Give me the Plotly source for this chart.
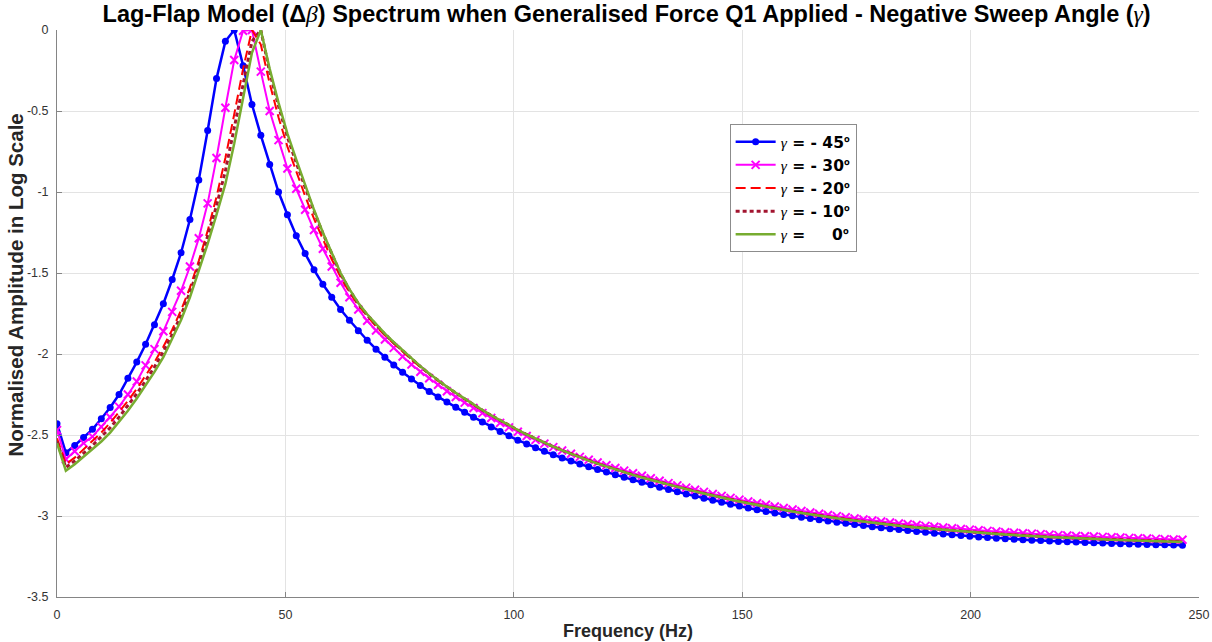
import plotly.graph_objects as go

# ---------------- data ----------------
FREQ_STEP_HZ = 1.94
N_POINTS = 128
freq_hz = [round(i * FREQ_STEP_HZ, 3) for i in range(N_POINTS)]

amp_m45 = [-2.43, -2.61, -2.565, -2.515, -2.465, -2.40, -2.33, -2.25, -2.15, -2.05,
           -1.94, -1.82, -1.69, -1.54, -1.375, -1.17, -0.926, -0.62, -0.30, -0.07,
           0.0, -0.22, -0.46, -0.65, -0.83, -1.0, -1.14, -1.27, -1.38, -1.48,
           -1.57, -1.65, -1.725, -1.792, -1.857, -1.915, -1.97, -2.02, -2.068, -2.112,
           -2.155, -2.195, -2.232, -2.265, -2.296, -2.328, -2.36, -2.39, -2.42, -2.45,
           -2.478, -2.505, -2.532, -2.556, -2.579, -2.601, -2.622, -2.642, -2.661, -2.679,
           -2.696, -2.713, -2.729, -2.745, -2.761, -2.777, -2.792, -2.807, -2.822, -2.836,
           -2.85, -2.864, -2.877, -2.89, -2.903, -2.915, -2.927, -2.939, -2.951, -2.962,
           -2.972, -2.981, -2.99, -2.999, -3.007, -3.015, -3.023, -3.031, -3.038, -3.045,
           -3.052, -3.059, -3.066, -3.072, -3.078, -3.084, -3.09, -3.096, -3.101, -3.106,
           -3.111, -3.116, -3.121, -3.125, -3.129, -3.133, -3.137, -3.14, -3.143, -3.146,
           -3.149, -3.152, -3.155, -3.157, -3.159, -3.161, -3.163, -3.165, -3.167, -3.169,
           -3.171, -3.173, -3.174, -3.176, -3.177, -3.178, -3.179, -3.18]

amp_m30 = [-2.47, -2.65, -2.60, -2.55, -2.51, -2.45, -2.39, -2.325, -2.25, -2.17,
           -2.07, -1.97, -1.86, -1.74, -1.61, -1.46, -1.285, -1.07, -0.79, -0.48,
           -0.185, -0.005, 0.0, -0.257, -0.50, -0.68, -0.855, -0.98, -1.11, -1.235,
           -1.35, -1.46, -1.56, -1.65, -1.725, -1.795, -1.855, -1.91, -1.962, -2.015,
           -2.065, -2.11, -2.15, -2.19, -2.23, -2.265, -2.30, -2.333, -2.365, -2.395,
           -2.425, -2.453, -2.48, -2.506, -2.53, -2.553, -2.575, -2.596, -2.616, -2.635,
           -2.653, -2.67, -2.687, -2.704, -2.72, -2.736, -2.752, -2.767, -2.782, -2.797,
           -2.811, -2.825, -2.838, -2.851, -2.864, -2.876, -2.888, -2.899, -2.91, -2.921,
           -2.931, -2.941, -2.951, -2.96, -2.969, -2.978, -2.986, -2.994, -3.001, -3.008,
           -3.015, -3.022, -3.028, -3.034, -3.04, -3.046, -3.051, -3.056, -3.061, -3.066,
           -3.071, -3.076, -3.08, -3.084, -3.088, -3.092, -3.096, -3.1, -3.103, -3.106,
           -3.109, -3.112, -3.115, -3.118, -3.12, -3.123, -3.125, -3.127, -3.129, -3.131,
           -3.133, -3.135, -3.137, -3.139, -3.141, -3.143, -3.145, -3.147]

amp_m20 = [-2.52, -2.68, -2.64, -2.59, -2.54, -2.485, -2.425, -2.36, -2.29, -2.215,
           -2.135, -2.05, -1.955, -1.85, -1.73, -1.59, -1.425, -1.24, -1.03, -0.79,
           -0.52, -0.24, 0.0, -0.09, -0.33, -0.54, -0.72, -0.875, -1.025, -1.165,
           -1.295, -1.415, -1.525, -1.62, -1.70, -1.768, -1.83, -1.885, -1.937, -1.987,
           -2.035, -2.081, -2.125, -2.166, -2.205, -2.243, -2.279, -2.314, -2.348, -2.38,
           -2.411, -2.441, -2.469, -2.496, -2.522, -2.547, -2.571, -2.594, -2.615, -2.636,
           -2.656, -2.675, -2.693, -2.711, -2.728, -2.744, -2.76, -2.775, -2.79, -2.805,
           -2.819, -2.833, -2.846, -2.859, -2.872, -2.884, -2.896, -2.908, -2.919, -2.93,
           -2.941, -2.951, -2.961, -2.97, -2.979, -2.988, -2.996, -3.004, -3.012, -3.019,
           -3.026, -3.033, -3.04, -3.046, -3.052, -3.058, -3.064, -3.069, -3.074, -3.079,
           -3.084, -3.089, -3.093, -3.097, -3.101, -3.105, -3.109, -3.113, -3.116, -3.119,
           -3.122, -3.125, -3.128, -3.131, -3.133, -3.136, -3.138, -3.14, -3.142, -3.144,
           -3.146, -3.148, -3.15, -3.152, -3.154, -3.156, -3.157, -3.158]

amp_m10 = [-2.54, -2.70, -2.66, -2.615, -2.565, -2.51, -2.455, -2.39, -2.32, -2.245,
           -2.165, -2.08, -1.985, -1.88, -1.76, -1.62, -1.46, -1.28, -1.085, -0.87,
           -0.61, -0.33, -0.07, 0.0, -0.26, -0.47, -0.66, -0.82, -0.975, -1.12,
           -1.255, -1.385, -1.505, -1.605, -1.69, -1.76, -1.822, -1.878, -1.93, -1.981,
           -2.03, -2.077, -2.122, -2.164, -2.203, -2.241, -2.278, -2.313, -2.347, -2.379,
           -2.41, -2.44, -2.469, -2.497, -2.523, -2.548, -2.572, -2.595, -2.616, -2.637,
           -2.657, -2.676, -2.694, -2.712, -2.729, -2.745, -2.761, -2.776, -2.791, -2.806,
           -2.82, -2.834, -2.847, -2.86, -2.873, -2.885, -2.897, -2.909, -2.92, -2.931,
           -2.942, -2.952, -2.962, -2.971, -2.98, -2.989, -2.997, -3.005, -3.013, -3.02,
           -3.027, -3.034, -3.041, -3.047, -3.053, -3.059, -3.065, -3.07, -3.075, -3.08,
           -3.085, -3.09, -3.094, -3.098, -3.102, -3.106, -3.11, -3.114, -3.117, -3.12,
           -3.123, -3.126, -3.129, -3.132, -3.134, -3.137, -3.139, -3.141, -3.143, -3.145,
           -3.147, -3.149, -3.151, -3.153, -3.155, -3.157, -3.158, -3.159]

amp_0 = [-2.55, -2.72, -2.68, -2.635, -2.59, -2.54, -2.485, -2.42, -2.35, -2.275,
         -2.195, -2.11, -2.02, -1.91, -1.79, -1.65, -1.49, -1.32, -1.14, -0.95,
         -0.70, -0.42, -0.14, 0.0, -0.24, -0.45, -0.64, -0.80, -0.96, -1.11,
         -1.25, -1.38, -1.50, -1.60, -1.685, -1.755, -1.818, -1.874, -1.927, -1.978,
         -2.028, -2.075, -2.12, -2.162, -2.202, -2.24, -2.277, -2.312, -2.346, -2.379,
         -2.41, -2.44, -2.469, -2.497, -2.523, -2.548, -2.572, -2.595, -2.617, -2.638,
         -2.658, -2.677, -2.695, -2.713, -2.73, -2.746, -2.762, -2.777, -2.792, -2.807,
         -2.821, -2.835, -2.848, -2.861, -2.874, -2.886, -2.898, -2.91, -2.921, -2.932,
         -2.943, -2.953, -2.963, -2.972, -2.981, -2.99, -2.998, -3.006, -3.014, -3.021,
         -3.028, -3.035, -3.042, -3.048, -3.054, -3.06, -3.066, -3.071, -3.076, -3.081,
         -3.086, -3.091, -3.095, -3.099, -3.103, -3.107, -3.111, -3.115, -3.118, -3.121,
         -3.124, -3.127, -3.13, -3.133, -3.135, -3.138, -3.14, -3.142, -3.144, -3.146,
         -3.148, -3.15, -3.152, -3.154, -3.156, -3.158, -3.159, -3.16]

GREEK = '<span style="font-family:Liberation Serif, DejaVu Serif, serif;font-weight:normal;font-style:italic">{}</span>'
GAMMA = GREEK.format("γ")
BETA = GREEK.format("β")
DEG = '<span style="font-family:Liberation Sans, Arial, sans-serif">º</span>'
NB = "\u00a0"
legend_labels = [GAMMA + " = - 45" + DEG, GAMMA + " = - 30" + DEG, GAMMA + " = - 20" + DEG,
                 GAMMA + " = - 10" + DEG, GAMMA + " = " + NB * 4 + "0" + DEG]
title_text = ("Lag-Flap Model (Δ" + BETA + ") Spectrum when Generalised Force Q1 Applied"
              " - Negative Sweep Angle (" + GAMMA + ")")

x_ticks = [0, 50, 100, 150, 200, 250]
y_ticks = [0, -0.5, -1, -1.5, -2, -2.5, -3, -3.5]
y_tick_text = ["0", "-0.5", "-1", "-1.5", "-2", "-2.5", "-3", "-3.5"]

FONT = "Liberation Sans, Arial, Helvetica, sans-serif"
LEGEND_FONT = "DejaVu Sans, Liberation Sans, sans-serif"

fig = go.Figure()
fig.add_trace(go.Scatter(x=freq_hz, y=amp_m45, name=legend_labels[0], mode="lines+markers",
                         line=dict(color="#0000FF", width=2.5),
                         marker=dict(symbol="circle", size=7, color="#0000FF")))
fig.add_trace(go.Scatter(x=freq_hz, y=amp_m30, name=legend_labels[1], mode="lines+markers",
                         line=dict(color="#FF00FF", width=2),
                         marker=dict(symbol="x-thin", size=8,
                                     line=dict(color="#FF00FF", width=2))))
fig.add_trace(go.Scatter(x=freq_hz, y=amp_m20, name=legend_labels[2], mode="lines",
                         line=dict(color="#FF0000", width=2, dash="10px,5px")))
fig.add_trace(go.Scatter(x=freq_hz, y=amp_m10, name=legend_labels[3], mode="lines",
                         line=dict(color="#A2142F", width=3, dash="4px,3px")))
fig.add_trace(go.Scatter(x=freq_hz, y=amp_0, name=legend_labels[4], mode="lines",
                         line=dict(color="#77AC30", width=2.5)))

axis_common = dict(showgrid=True, gridcolor="#e3e3e3", gridwidth=1, zeroline=False,
                   showline=True, linecolor="#858585", linewidth=1,
                   ticks="inside", ticklen=5, tickcolor="#858585",
                   tickfont=dict(family=FONT, size=12.5, color="#333333"), mirror=False,
                   automargin=False)

fig.update_layout(
    width=1212, height=642,
    margin=dict(l=57, r=13, t=30, b=45, autoexpand=False),
    paper_bgcolor="white", plot_bgcolor="white",
    font=dict(family=FONT, color="#262626"),
    title=dict(text=title_text,
               font=dict(family=FONT, size=23.5, color="#000000", weight="bold"),
               x=0.517, xanchor="center", y=0.978, yanchor="middle", xref="container", yref="container"),
    xaxis=dict(range=[0, 250], tickvals=x_ticks, ticktext=[str(v) for v in x_ticks],
               ticklabelstandoff=6, **axis_common),
    yaxis=dict(range=[-3.5, 0], tickvals=y_ticks, ticktext=y_tick_text,
               ticklabelstandoff=5, **axis_common),
    legend=dict(x=0.589, y=0.834, xanchor="left", yanchor="top",
                bgcolor="white", bordercolor="#8c8c8c", borderwidth=1,
                font=dict(family=LEGEND_FONT, size=15.5, color="#000000", weight="bold"),
                tracegroupgap=0, itemwidth=40),
    showlegend=True,
)

fig.add_annotation(text="<b>Frequency (Hz)</b>", xref="paper", yref="paper", x=0.5, y=-0.06,
                   xanchor="center", yanchor="middle", showarrow=False,
                   font=dict(family=FONT, size=18, color="#262626"))
fig.add_annotation(text="<b>Normalised Amplitude in Log Scale</b>", xref="paper", yref="paper",
                   x=-0.036, y=0.551, xanchor="center", yanchor="middle", textangle=-90,
                   showarrow=False, font=dict(family=FONT, size=20.5, color="#262626"))

fig.write_html("out.html")
